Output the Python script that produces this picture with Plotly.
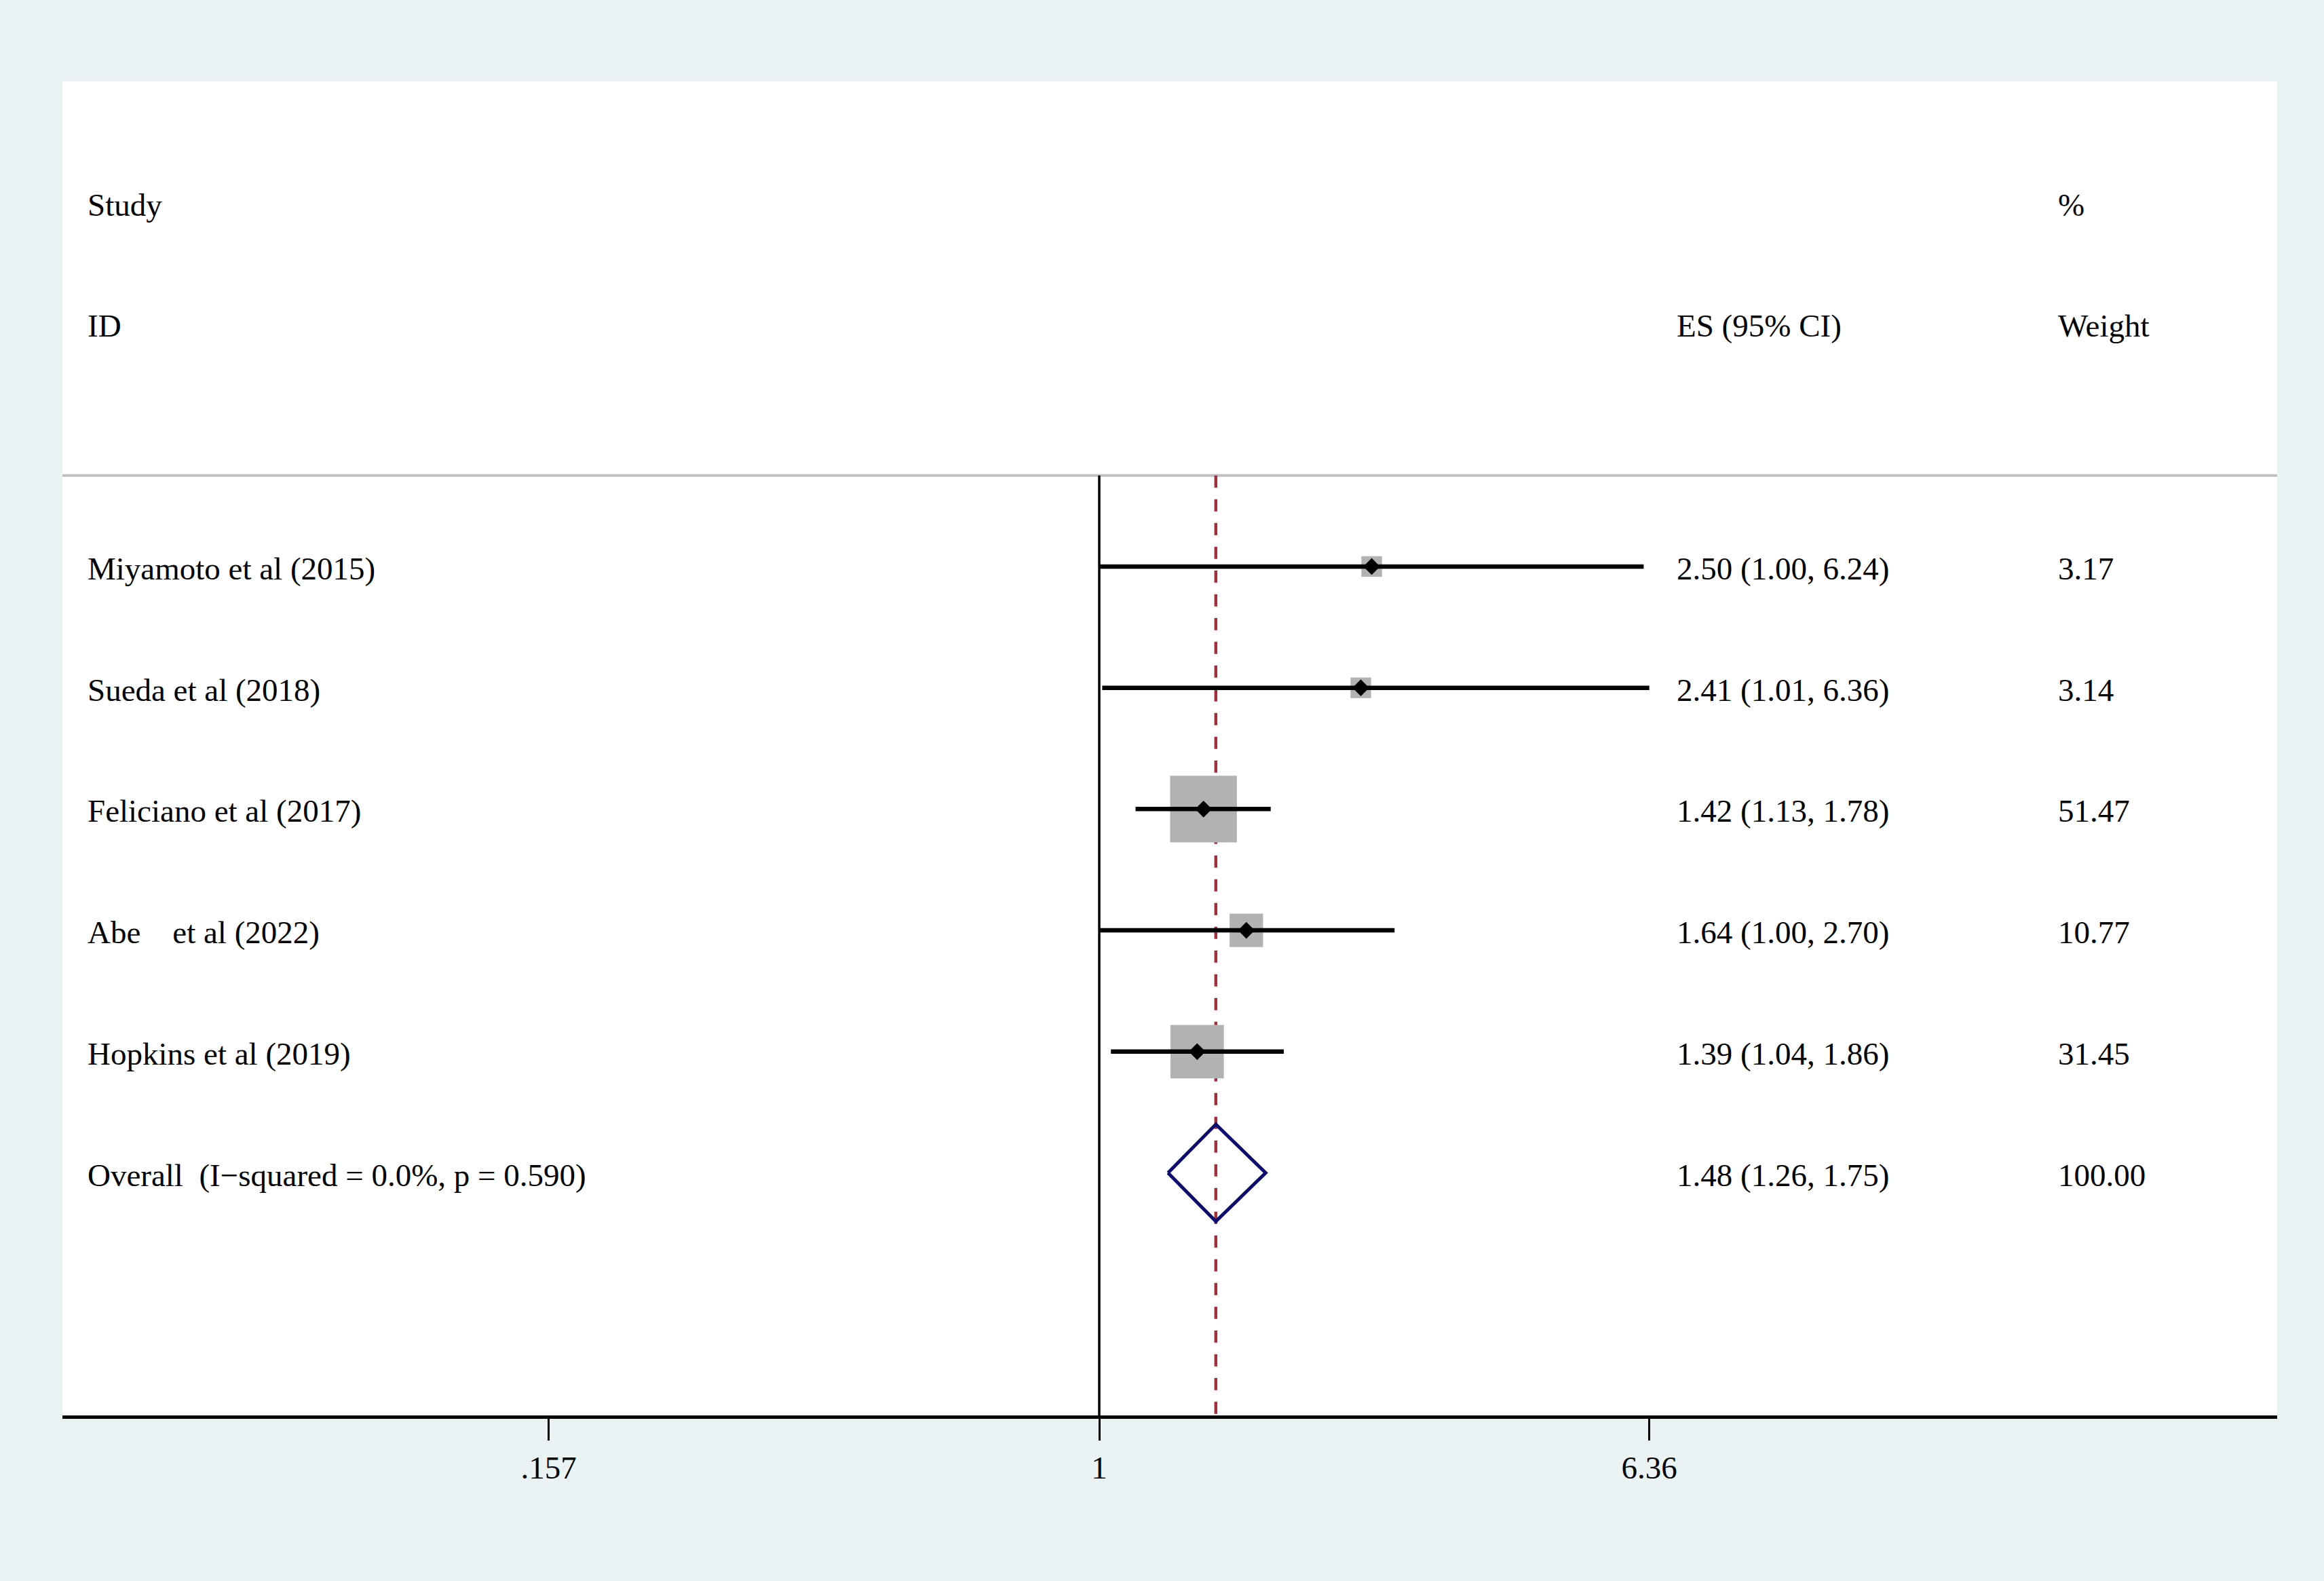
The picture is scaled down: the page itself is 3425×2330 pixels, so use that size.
import math
import plotly.graph_objects as go

# ---- data ----
studies = ["Miyamoto et al (2015)", "Sueda et al (2018)", "Feliciano et al (2017)",
           "Abe\u00a0\u00a0\u00a0 et al (2022)", "Hopkins et al (2019)"]
es = [2.50, 2.41, 1.42, 1.64, 1.39]
lo = [1.00, 1.01, 1.13, 1.00, 1.04]
hi = [6.24, 6.36, 1.78, 2.70, 1.86]
weights = [3.17, 3.14, 51.47, 10.77, 31.45]
overall_label = "Overall\u00a0\u00a0(I\u2212squared = 0.0%, p = 0.590)"
overall_es, overall_lo, overall_hi, overall_w = 1.48, 1.26, 1.75, 100.00
tick_vals = [0.157, 1, 6.36]
tick_text = [".157", "1", "6.36"]

FONT = "Liberation Serif"
FS = 47
W, H = 3425, 2330
ML, MR, MT, MB = 92, 69, 120, 244

rows = list(range(len(studies)))
overall_row = len(studies)

fig = go.Figure()

# weight boxes
box_sizes = [12.6 * math.sqrt(w) + 8 for w in weights]
fig.add_trace(go.Scatter(x=es, y=rows, mode="markers",
                         marker=dict(symbol="square", size=box_sizes, color="#B2B2B2",
                                     opacity=1, line=dict(width=0)),
                         hoverinfo="skip", showlegend=False))
# confidence interval lines
for r, l, h in zip(rows, lo, hi):
    fig.add_trace(go.Scatter(x=[l, h], y=[r, r], mode="lines",
                             line=dict(color="black", width=6.5),
                             hoverinfo="skip", showlegend=False))
# point estimates
fig.add_trace(go.Scatter(x=es, y=rows, mode="markers",
                         marker=dict(symbol="diamond", size=19, color="black",
                                     opacity=1, line=dict(width=0)),
                         hoverinfo="skip", showlegend=False))

# overall diamond
dh = 0.40
fig.add_trace(go.Scatter(
    x=[overall_lo, overall_es, overall_hi, overall_es, overall_lo],
    y=[overall_row, overall_row - dh, overall_row, overall_row + dh, overall_row],
    mode="lines", line=dict(color="#0C0C6C", width=5),
    hoverinfo="skip", showlegend=False))

# reference lines
fig.add_shape(type="line", xref="x", yref="y", x0=1, x1=1, y0=-0.75, y1=7,
              line=dict(color="black", width=3.5), layer="below")
fig.add_shape(type="line", xref="x", yref="y", x0=overall_es, x1=overall_es, y0=-0.75, y1=7,
              line=dict(color="#A0303C", width=4.5, dash="18px,17px"), layer="below")
fig.add_shape(type="line", xref="paper", yref="y", x0=0, x1=1, y0=-0.75, y1=-0.75,
              line=dict(color="#C0C0C0", width=4), layer="below")

plot_w = W - ML - MR
def px2paper(px):
    return (px - ML) / plot_w

col_study = px2paper(129)
col_es = px2paper(2471)
col_wt = px2paper(3033)

def ann(text, x, y):
    fig.add_annotation(text=text, x=x, y=y, xref="paper", yref="y",
                       xanchor="left", yanchor="middle", showarrow=False,
                       borderpad=0, borderwidth=0, yshift=-3,
                       font=dict(family=FONT, size=FS, color="black"))

ann("Study", col_study, -3)
ann("ID", col_study, -2)
ann("ES (95% CI)", col_es, -2)
ann("%", col_wt, -3)
ann("Weight", col_wt, -2)

for r, s, e, l, h, w in zip(rows, studies, es, lo, hi, weights):
    ann(s, col_study, r)
    ann(f"{e:.2f} ({l:.2f}, {h:.2f})", col_es, r)
    ann(f"{w:.2f}", col_wt, r)

ann(overall_label, col_study, overall_row)
ann(f"{overall_es:.2f} ({overall_lo:.2f}, {overall_hi:.2f})", col_es, overall_row)
ann(f"{overall_w:.2f}", col_wt, overall_row)

fig.update_layout(
    width=W, height=H,
    margin=dict(l=ML, r=MR, t=MT, b=MB, pad=0),
    paper_bgcolor="#EAF2F3", plot_bgcolor="white",
    showlegend=False,
    xaxis=dict(type="log", range=[-1.5144, 1.7205], tickvals=tick_vals, ticktext=tick_text,
               ticks="outside", ticklen=32, tickwidth=3, tickcolor="black",
               showline=True, linewidth=5, linecolor="black", mirror=False,
               showgrid=False, zeroline=False, fixedrange=True,
               tickfont=dict(family=FONT, size=FS, color="black")),
    yaxis=dict(range=[7, -4], showgrid=False, zeroline=False, showticklabels=False,
               ticks="", showline=False, fixedrange=True),
)

fig.write_html("out.html", config={"displayModeBar": False},
               post_script="document.body.style.margin='0';document.body.style.background='#EAF2F3';")
